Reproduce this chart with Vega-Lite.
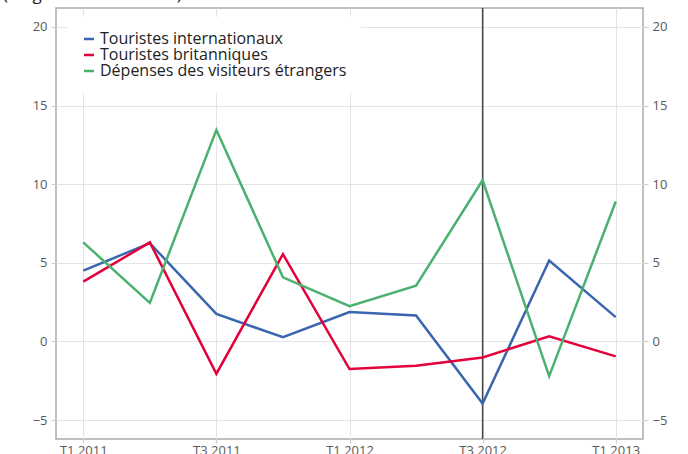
{
  "$schema": "https://vega.github.io/schema/vega-lite/v6.json",
  "width": 587,
  "height": 431,
  "autosize": "none",
  "padding": {"left": 56, "top": 8, "right": 45, "bottom": 15},
  "background": "white",
  "title": {"text": "(en glissement annuel)", "anchor": "start", "frame": "group", "dx": -53, "offset": -10, "baseline": "alphabetic", "fontSize": 17, "fontWeight": "normal", "font": "Open Sans", "color": "#222"},
  "config": {
    "font": "Open Sans",
    "view": {"stroke": "#aaaaaa", "strokeWidth": 1.5, "fill": "white"},
    "axis": {"gridColor": "#e4e4e4", "gridWidth": 1, "domain": false, "tickColor": "#cccccc", "tickSize": 5, "labelFont": "Open Sans", "labelFontSize": 13, "labelColor": "#595959", "title": null}
  },
  "datasets": {
    "series": [
      {"t": 0, "s": "Touristes internationaux", "v": 4.5},
      {"t": 1, "s": "Touristes internationaux", "v": 6.25},
      {"t": 2, "s": "Touristes internationaux", "v": 1.75},
      {"t": 3, "s": "Touristes internationaux", "v": 0.27},
      {"t": 4, "s": "Touristes internationaux", "v": 1.87},
      {"t": 5, "s": "Touristes internationaux", "v": 1.65},
      {"t": 6, "s": "Touristes internationaux", "v": -3.95},
      {"t": 7, "s": "Touristes internationaux", "v": 5.15},
      {"t": 8, "s": "Touristes internationaux", "v": 1.55},
      {"t": 0, "s": "Touristes britanniques", "v": 3.8},
      {"t": 1, "s": "Touristes britanniques", "v": 6.3},
      {"t": 2, "s": "Touristes britanniques", "v": -2.05},
      {"t": 3, "s": "Touristes britanniques", "v": 5.55},
      {"t": 4, "s": "Touristes britanniques", "v": -1.75},
      {"t": 5, "s": "Touristes britanniques", "v": -1.55},
      {"t": 6, "s": "Touristes britanniques", "v": -1.02},
      {"t": 7, "s": "Touristes britanniques", "v": 0.33},
      {"t": 8, "s": "Touristes britanniques", "v": -0.95},
      {"t": 0, "s": "Dépenses des visiteurs étrangers", "v": 6.3},
      {"t": 1, "s": "Dépenses des visiteurs étrangers", "v": 2.45},
      {"t": 2, "s": "Dépenses des visiteurs étrangers", "v": 13.45},
      {"t": 3, "s": "Dépenses des visiteurs étrangers", "v": 4.08},
      {"t": 4, "s": "Dépenses des visiteurs étrangers", "v": 2.25},
      {"t": 5, "s": "Dépenses des visiteurs étrangers", "v": 3.55},
      {"t": 6, "s": "Dépenses des visiteurs étrangers", "v": 10.25},
      {"t": 7, "s": "Dépenses des visiteurs étrangers", "v": -2.2},
      {"t": 8, "s": "Dépenses des visiteurs étrangers", "v": 8.9}
    ],
    "marker": [{"t": 6}]
  },
  "layer": [
    {
      "data": {"name": "marker"},
      "mark": {"type": "rule", "color": "#444444", "strokeWidth": 1.5},
      "encoding": {
        "x": {"field": "t", "type": "quantitative", "scale": {"domain": [-0.41, 8.41], "nice": false, "zero": false},
              "axis": {"values": [0, 2, 4, 6, 8], "labelExpr": "['T1 2011','T2 2011','T3 2011','T4 2011','T1 2012','T2 2012','T3 2012','T4 2012','T1 2013'][datum.value]", "tickSize": 4, "labelPadding": 1, "labelBaseline": "top"}}
      }
    },
    {
      "data": {"name": "series"},
      "mark": {"type": "line", "strokeWidth": 2.5},
      "encoding": {
        "x": {"field": "t", "type": "quantitative"},
        "y": {"field": "v", "type": "quantitative", "scale": {"domain": [-6.2, 21.2], "nice": false, "zero": false},
              "axis": {"orient": "left", "values": [-5, 0, 5, 10, 15, 20], "labelPadding": 4}},
        "color": {"field": "s", "type": "nominal",
                  "scale": {"domain": ["Touristes internationaux", "Touristes britanniques", "Dépenses des visiteurs étrangers"], "range": ["#3a66b0", "#e4003b", "#4bb16e"]},
                  "legend": {"title": null, "orient": "none", "legendX": 11, "legendY": 9, "padding": 14, "fillColor": "white",
                             "symbolType": "stroke", "symbolSize": 100, "symbolStrokeWidth": 2.5, "labelFontSize": 16, "labelColor": "#222", "labelFont": "Open Sans", "labelLimit": 500, "rowPadding": 0, "labelOffset": 3}}
      }
    },
    {
      "data": {"name": "series"},
      "mark": {"type": "line", "opacity": 0},
      "encoding": {
        "x": {"field": "t", "type": "quantitative"},
        "y": {"field": "v", "type": "quantitative", "axis": {"orient": "right", "values": [-5, 0, 5, 10, 15, 20], "grid": false, "labelPadding": 4}},
        "detail": {"field": "s"}
      }
    }
  ],
  "resolve": {"axis": {"y": "independent"}}
}
